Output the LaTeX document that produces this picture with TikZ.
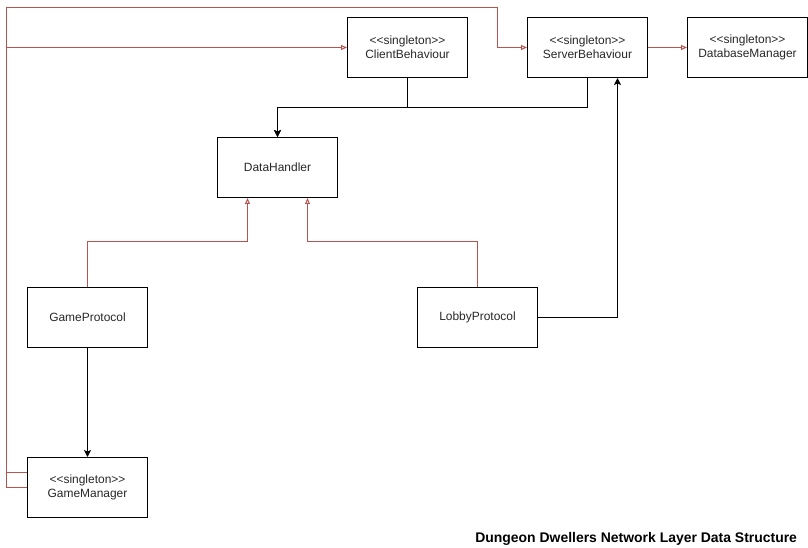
\documentclass[tikz,border=0pt]{standalone}
\usepackage{fontspec}
\setmainfont{Liberation Sans}
\usetikzlibrary{arrows.meta, positioning, calc}
\usepackage{xcolor}
\definecolor{linkRed}{RGB}{184, 84, 80}
\definecolor{textGray}{RGB}{40, 40, 40}
\newcommand{\singletontag}{{<}{<}singleton{>}{>}}

\begin{document}
\begin{tikzpicture}[
    x=1bp, y=-1bp,
    box/.style={rectangle, draw=black, fill=white, line width=1bp, align=center, minimum width=120bp, minimum height=60bp, inner sep=0pt, text=textGray, font=\fontsize{12}{14}\selectfont},
    arrow/.style={-{Stealth[length=7bp, width=7bp, inset=1.5bp]}, line width=1bp, black},
    inherit/.style={-{Triangle[open, length=6bp, width=5bp]}, line width=1bp, linkRed}
]

% Page frame
\useasboundingbox (0,0) rectangle (808,548);

\begin{scope}[shift={(0.5,0.5)}]
% Classes
\node[box] (client) at (407, 47)  {\singletontag\\ClientBehaviour};
\node[box] (server) at (587, 47)  {\singletontag\\ServerBehaviour};
\node[box] (db)     at (747, 47)  {\singletontag\\DatabaseManager};
\node[box] (data)   at (277, 167) {DataHandler};
\node[box] (game)   at (87, 317)  {GameProtocol};
\node[box] (lobby)  at (477, 317) {LobbyProtocol};
\node[box] (mgr)    at (87, 487)  {\singletontag\\GameManager};

\node[anchor=east, font=\fontsize{14}{16}\selectfont\bfseries] (title) at (800, 538) {Dungeon Dwellers Network Layer Data Structure};

% Behaviours to data handler
\draw[arrow] (client.south) -- ++(0, 30) -| (data.north);
\draw[arrow] (server.south) -- ++(0, 30) -| (data.north);

% Protocols inherit from data handler
\draw[inherit] (game.north) -- ++(0, -45) -| ([xshift=-30bp]data.south);
\draw[inherit] (lobby.north) -- ++(0, -45) -| ([xshift=30bp]data.south);

% Protocol links
\draw[arrow] (lobby.east) -| ([xshift=30bp]server.south);
\draw[arrow] (game.south) -- (mgr.north);

% Game manager around the left edge
\draw[inherit] (mgr.west) -- ++(-20, 0) |- (client.west);
\draw[inherit] ([yshift=15bp]mgr.west) -- ++(-20, 0) |- ($(server.west)+(-30, -40)$) |- (server.west);
\draw[inherit] (server.east) -- (db.west);
\end{scope}

\end{tikzpicture}
\end{document}
